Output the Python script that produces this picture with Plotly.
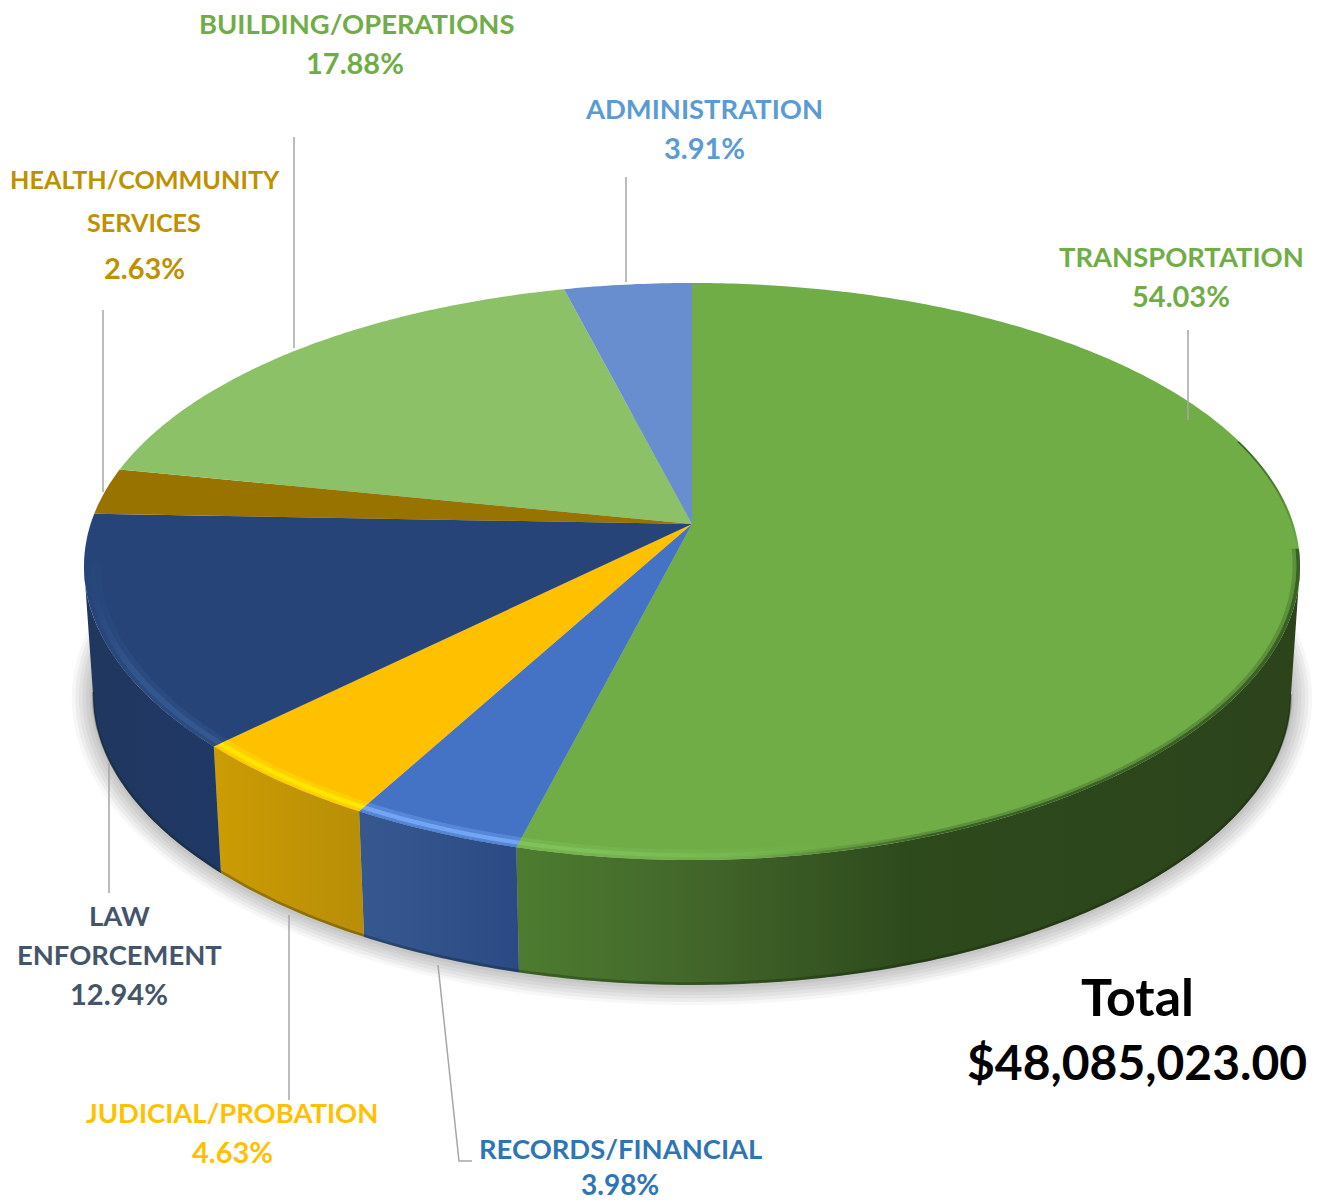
import numpy as np
import plotly.graph_objects as go

# ---- data -------------------------------------------------------------
categories = ["TRANSPORTATION", "RECORDS/FINANCIAL", "JUDICIAL/PROBATION", "LAW ENFORCEMENT",
              "HEALTH/COMMUNITY SERVICES", "BUILDING/OPERATIONS", "ADMINISTRATION"]
shares = [54.03, 3.98, 4.63, 12.94, 2.63, 17.88, 3.91]
total_lines = ["Total", "$48,085,023.00"]

# ---- styles -----------------------------------------------------------
top_colors = ["#70ad47", "#4472c4", "#ffc000", "#264478", "#997300", "#8cc168", "#698ed0"]
wall_scales = [
    [[0, "#4d7c30"], [0.23, "#42662a"], [0.5, "#2d4a1c"], [1, "#2c431b"]],
    [[0, "#36588f"], [1, "#2b4a85"]],
    [[0, "#cc9c03"], [1, "#b88e08"]],
    [[0, "#20375f"], [1, "#1f3865"]],
    None, None, None,
]
NAME, PCT = 27.4, 29
label_specs = [  # text, colour, x, y, size
    ("BUILDING/OPERATIONS", "#70ad47", 356, 23, NAME), ("17.88%", "#70ad47", 355, 62, PCT),
    ("ADMINISTRATION", "#5b9bd5", 704, 108, NAME), ("3.91%", "#5b9bd5", 704, 147, PCT),
    ("TRANSPORTATION", "#70ad47", 1181, 256, NAME), ("54.03%", "#70ad47", 1181, 295, PCT),
    ("HEALTH/COMMUNITY", "#bf9000", 145, 179, 25.2), ("SERVICES", "#bf9000", 144, 222, 25.2), ("2.63%", "#bf9000", 144, 267, PCT),
    ("LAW", "#44546a", 119, 915, NAME), ("ENFORCEMENT", "#44546a", 119, 954, NAME), ("12.94%", "#44546a", 119, 993, PCT),
    ("JUDICIAL/PROBATION", "#ffc000", 232, 1112, NAME), ("4.63%", "#ffc000", 232, 1151, PCT),
    ("RECORDS/FINANCIAL", "#2e75b6", 620, 1148, NAME), ("3.98%", "#2e75b6", 620, 1184, 28),
]
leaders = [
    ([1188, 1188], [330, 420]), ([626, 626], [177, 282]), ([294, 294], [137, 348]),
    ([103, 103], [310, 492]), ([109, 109], [763, 893]), ([289, 289], [915, 1100]),
    ([438, 459, 472], [965, 1161, 1161]),
]

# ---- projection of the tilted disc ------------------------------------
CX, CY, A, B, K, KX = 692.0, 524.0, 601.4, 280.7, 0.1646, 0.147
WALL_DY, WALL_S = 130.0, 0.985


def project(theta, r=1.0, sx=1.0, sy=1.0, dy=0.0):
    u, v = r * np.sin(theta), -r * np.cos(theta)
    return CX + sx * A * u / (1 - KX * v), CY + dy + sy * B * v / (1 - K * v)


def arc(t0, t1, n=None):
    n = n or max(6, int(abs(t1 - t0) * 90))
    return np.linspace(t0, t1, n)


fig = go.Figure()


def poly(x, y, **kw):
    fig.add_trace(go.Scatter(x=list(x), y=list(y), mode="none", fill="toself",
                             hoverinfo="skip", showlegend=False, **kw))


def band(t0, t1, r0, r1, **kw):
    ts = arc(t0, t1, 160)
    xa, ya = project(ts, r=r0)
    xb, yb = project(ts[::-1], r=r1)
    poly(np.r_[xa, xb], np.r_[ya, yb], **kw)


def hgrad(scale):
    return dict(fillgradient=dict(type="horizontal", colorscale=scale))


bounds = np.cumsum([0] + shares) / 100 * 2 * np.pi
vis0, vis1 = np.arccos(-KX), 2 * np.pi - np.arccos(-KX)   # silhouette angles

# soft shadow under the drum
full = np.linspace(0, 2 * np.pi, 361)
for f, a in zip(np.linspace(1, 0, 7), [0.08, 0.10, 0.11, 0.12, 0.13, 0.14, 0.15]):
    sx, sy = 0.985 + 0.035 * f, 0.985 + 0.06 * f
    x, y = project(full, sx=sx, sy=sy, dy=WALL_DY)
    poly(x, y, fillcolor=f"rgba(150,150,150,{a})")

# side walls
for i in range(len(shares)):
    t0, t1 = max(bounds[i], vis0), min(bounds[i + 1], vis1)
    if wall_scales[i] is None or t1 <= t0:
        continue
    ts = arc(t0, t1)
    xt, yt = project(ts)
    xb, yb = project(ts[::-1], sx=WALL_S, sy=WALL_S, dy=WALL_DY)
    poly(np.r_[xt, xb], np.r_[yt, yb], **hgrad(wall_scales[i]))
# dark line on the bottom edge of the drum
ts = arc(vis0, np.radians(262))
xb, yb = project(ts, sx=WALL_S, sy=WALL_S, dy=WALL_DY - 1.5)
fig.add_trace(go.Scatter(x=xb, y=yb, mode="lines", line=dict(color="rgba(20,30,15,0.3)", width=2.5),
                         hoverinfo="skip", showlegend=False))

# top face
for i in range(len(shares)):
    xs, ys = project(arc(bounds[i], bounds[i + 1]))
    poly(np.r_[CX, xs], np.r_[CY, ys], fillcolor=top_colors[i])

# soft dark edge of the transportation top, fading towards the front
t_a, t_b = np.radians(95), np.radians(176)
for r0, r1, rgb, alpha in [(0.994, 1.0, "52,88,34", 0.9), (0.988, 0.994, "80,125,52", 0.6)]:
    band(t_a, t_b, r0, r1, **hgrad([[0, f"rgba({rgb},0)"], [0.35, f"rgba({rgb},{alpha})"], [1, f"rgba({rgb},{alpha})"]]))
band(np.radians(72), t_a, 0.996, 1.0, fillgradient=dict(
    type="vertical", colorscale=[[0, "rgba(52,88,34,0)"], [1, "rgba(52,88,34,0.9)"]]))

# bright bevel along the front rim
bevels = [
    (bounds[1], np.radians(150), "128,195,92", [[0, 1], [0.3, 0.55], [0.6, 0], [1, 0]]),
    (bounds[2], bounds[1], "115,165,245", [[0, 1], [1, 1]]),
    (bounds[3], bounds[2], "255,232,0", [[0, 0.85], [1, 1]]),
    (np.radians(262), bounds[3], "52,88,145", [[0, 0], [0.35, 0.8], [1, 1]]),
]
for t0, t1, rgb, alphas in bevels:
    for r0, r1, fac in [(0.974, 0.999, 0.4), (0.983, 0.993, 1.0)]:
        scale = [[s, f"rgba({rgb},{a * fac})"] for s, a in alphas]
        band(t0, t1, r0, r1, **hgrad(scale))

# leader lines
for lx, ly in leaders:
    fig.add_trace(go.Scatter(x=lx, y=ly, mode="lines", line=dict(color="#a6a6a6", width=1.5),
                             hoverinfo="skip", showlegend=False))

# labels
annotations = [dict(x=x, y=y, text=f"<b>{t}</b>", showarrow=False, xanchor="center", yanchor="middle",
                    font=dict(family="Lato", size=s, color=c)) for t, c, x, y, s in label_specs]
annotations += [dict(x=1137, y=yy, text=f"<b>{t}</b>", showarrow=False, xanchor="center", yanchor="middle",
                     font=dict(family="Lato", size=s, color="#000000"))
                for t, yy, s in zip(total_lines, [996, 1061], [52, 48])]

fig.update_layout(
    width=1317, height=1202, margin=dict(l=0, r=0, t=0, b=0),
    paper_bgcolor="white", plot_bgcolor="white", showlegend=False, annotations=annotations,
    xaxis=dict(range=[0, 1317], visible=False, fixedrange=True),
    yaxis=dict(range=[1202, 0], visible=False, fixedrange=True),
)
fig.write_html("out.html", config={"displayModeBar": False},
               post_script="document.body.style.margin='0';")
